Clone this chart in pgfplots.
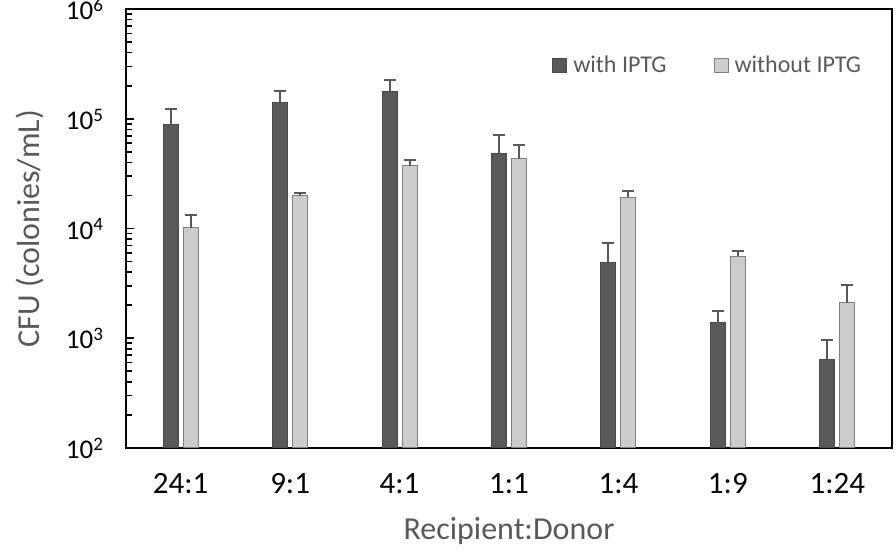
\documentclass[border=0pt]{standalone}
\usepackage{pgfplots}
\pgfplotsset{compat=1.18}
\usepackage{fontspec}
\setmainfont{Carlito}
\definecolor{darkbar}{HTML}{595959}
\definecolor{darkedge}{HTML}{4A4A4A}
\definecolor{lightbar}{HTML}{CCCCCC}
\definecolor{lightedge}{HTML}{808080}
\definecolor{labelgray}{HTML}{595959}
\newcommand\tenpow[1]{10\raisebox{0.3em}{\fontsize{9.5}{10}\selectfont #1}}
\begin{document}
\begin{tikzpicture}
\begin{axis}[
  at={(0,0)}, anchor=south west,
  scale only axis, width=383pt, height=219.5pt,
  ymode=log, log origin=infty,
  ymin=100, ymax=1e6,
  xmin=-0.5, xmax=6.5,
  ybar=2.5pt, bar width=7.5pt,
  xtick={0,...,6},
  xticklabels={24:1,9:1,4:1,1:1,1:4,1:9,1:24},
  x tick style={draw=none},
  ytick={1e2,1e3,1e4,1e5,1e6},
  yticklabels={\tenpow{2},\tenpow{3},\tenpow{4},\tenpow{5},\tenpow{6}},
  ytick pos=left,
  major tick length=4pt, minor tick length=3pt,
  y tick style={black, line width=0.8pt},
  axis line style={black, line width=1pt},
  yticklabel style={font=\fontsize{13.5}{15}\selectfont, text=black, anchor=base east, xshift=-8pt, yshift=-5.25pt},
  xticklabel style={font=\fontsize{15.5}{17}\selectfont, text=black, yshift=-5pt},
  ylabel={CFU (colonies/mL)},
  ylabel style={at={(axis description cs:-0.1253,0.5)}, anchor=center, font=\fontsize{16}{18}\selectfont, text=labelgray},
  xlabel={Recipient:Donor},
  xlabel style={at={(axis description cs:0.5,-0.19)}, anchor=center, font=\fontsize{16}{18}\selectfont, text=labelgray},
  legend columns=2,
  legend style={draw=none, fill=none, at={(0.556,0.872)}, anchor=west,
    font=\fontsize{12}{13}\selectfont, text=labelgray, inner sep=0pt,
    /tikz/every even column/.append style={column sep=21.5pt},
    /tikz/every odd column/.append style={column sep=1pt}},
  legend image code/.code={\draw[#1] (0pt,-3.5pt) rectangle (7pt,3.5pt);},
  error bars/error bar style={line width=1pt, draw=darkbar},
  error bars/error mark=|,
  error bars/error mark options={line width=1pt, mark size=3pt, draw=darkbar},
]
\addplot[fill=darkbar, draw=darkedge, line width=0.5pt,
  error bars/.cd, y dir=plus, y explicit]
  table[x=x, y=y, y error=e] {
x y e
0 88900 33800
1 140000 39000
2 176500 49000
3 48400 22700
4 4850 2480
5 1386 400
6 643 315
};
\addplot[fill=lightbar, draw=lightedge, line width=0.5pt,
  error bars/.cd, y dir=plus, y explicit]
  table[x=x, y=y, y error=e] {
x y e
0 10170 3100
1 19900 1150
2 37350 4400
3 43250 14400
4 19240 2860
5 5580 660
6 2110 925
};
\legend{with IPTG, without IPTG}
\end{axis}
\pgfresetboundingbox
\useasboundingbox (-63pt,-52pt) rectangle (385pt,224pt);
\end{tikzpicture}
\end{document}
